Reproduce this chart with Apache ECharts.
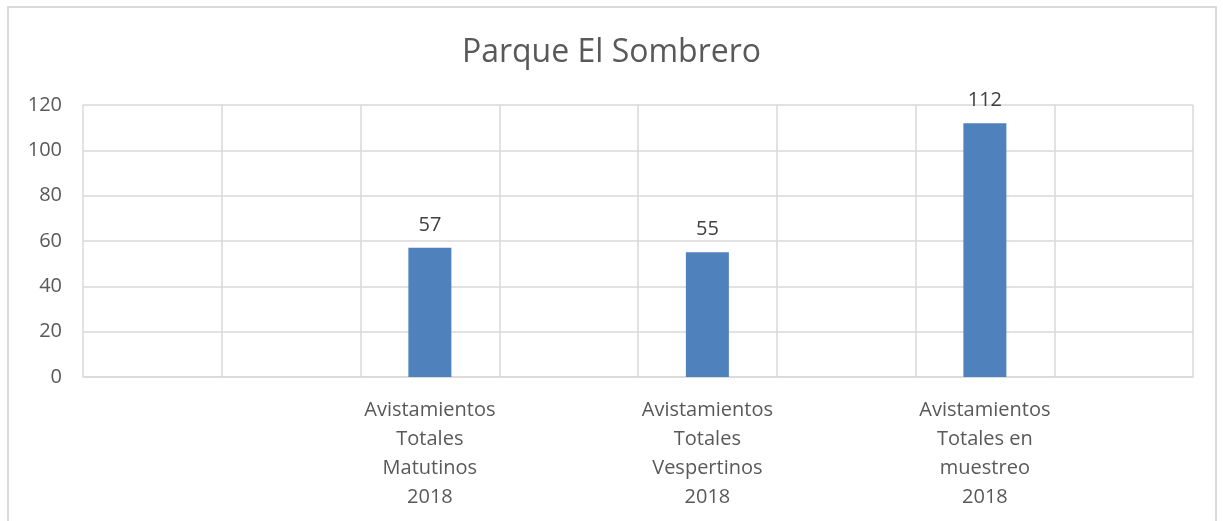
<!DOCTYPE html>
<html>
<head>
<meta charset="utf-8">
<script src="https://cdn.jsdelivr.net/npm/echarts@6/dist/echarts.min.js"></script>
<style>
  html, body { margin: 0; padding: 0; background: #fff; overflow: hidden; }
  #frame { position: absolute; left: 7px; top: 6px; width: 1206px; height: 530px; border: 2px solid #d9d9d9; border-bottom: none; }
  #main { position: absolute; left: 0; top: 0; width: 1223px; height: 521px; }
</style>
</head>
<body>
<div id="frame"></div>
<div id="main"></div>
<script>
// categorias (las vacias dejan el hueco de Excel)
var categorias = ['', '', 'Avistamientos\nTotales\nMatutinos\n2018', '', 'Avistamientos\nTotales\nVespertinos\n2018', '', 'Avistamientos\nTotales en\nmuestreo\n2018', '']
var valores = [null, null, 57, null, 55, null, 112, null]
var ticksY = [0, 20, 40, 60, 80, 100, 120]

var chart = echarts.init(document.getElementById('main'))
var fuente = '"Open Sans", "Liberation Sans", sans-serif'

var option = {
  animation: false,
  title: {
    text: 'Parque El Sombrero',
    left: 'center',
    top: 32,
    textStyle: { color: '#595959', fontSize: 32, fontWeight: 'normal', fontFamily: fuente }
  },
  grid: { left: 83, right: 30, top: 105, bottom: 144, containLabel: false },
  xAxis: {
    type: 'category',
    data: categorias,
    boundaryGap: true,
    axisLine: { lineStyle: { color: '#d9d9d9', width: 1.5 } },
    axisTick: { show: false },
    axisLabel: {
      interval: 0,
      color: '#595959',
      fontSize: 20,
      lineHeight: 29,
      margin: 19,
      fontFamily: fuente
    },
    splitLine: { show: true, interval: 0, lineStyle: { color: '#d9d9d9', width: 1.5 } }
  },
  yAxis: {
    type: 'value',
    min: ticksY[0],
    max: ticksY[ticksY.length - 1],
    interval: 20,
    axisLine: { show: false },
    axisTick: { show: false },
    axisLabel: { color: '#595959', fontSize: 20, margin: 21, fontFamily: fuente },
    splitLine: { lineStyle: { color: '#d9d9d9', width: 1.5 } }
  },
  series: [
    {
      type: 'bar',
      data: valores,
      barWidth: 43,
      itemStyle: { color: '#4f81bd' },
      label: {
        show: true,
        position: 'top',
        distance: 13,
        color: '#404040',
        fontSize: 20,
        fontFamily: fuente
      }
    }
  ]
}
chart.setOption(option)
</script>
</body>
</html>
